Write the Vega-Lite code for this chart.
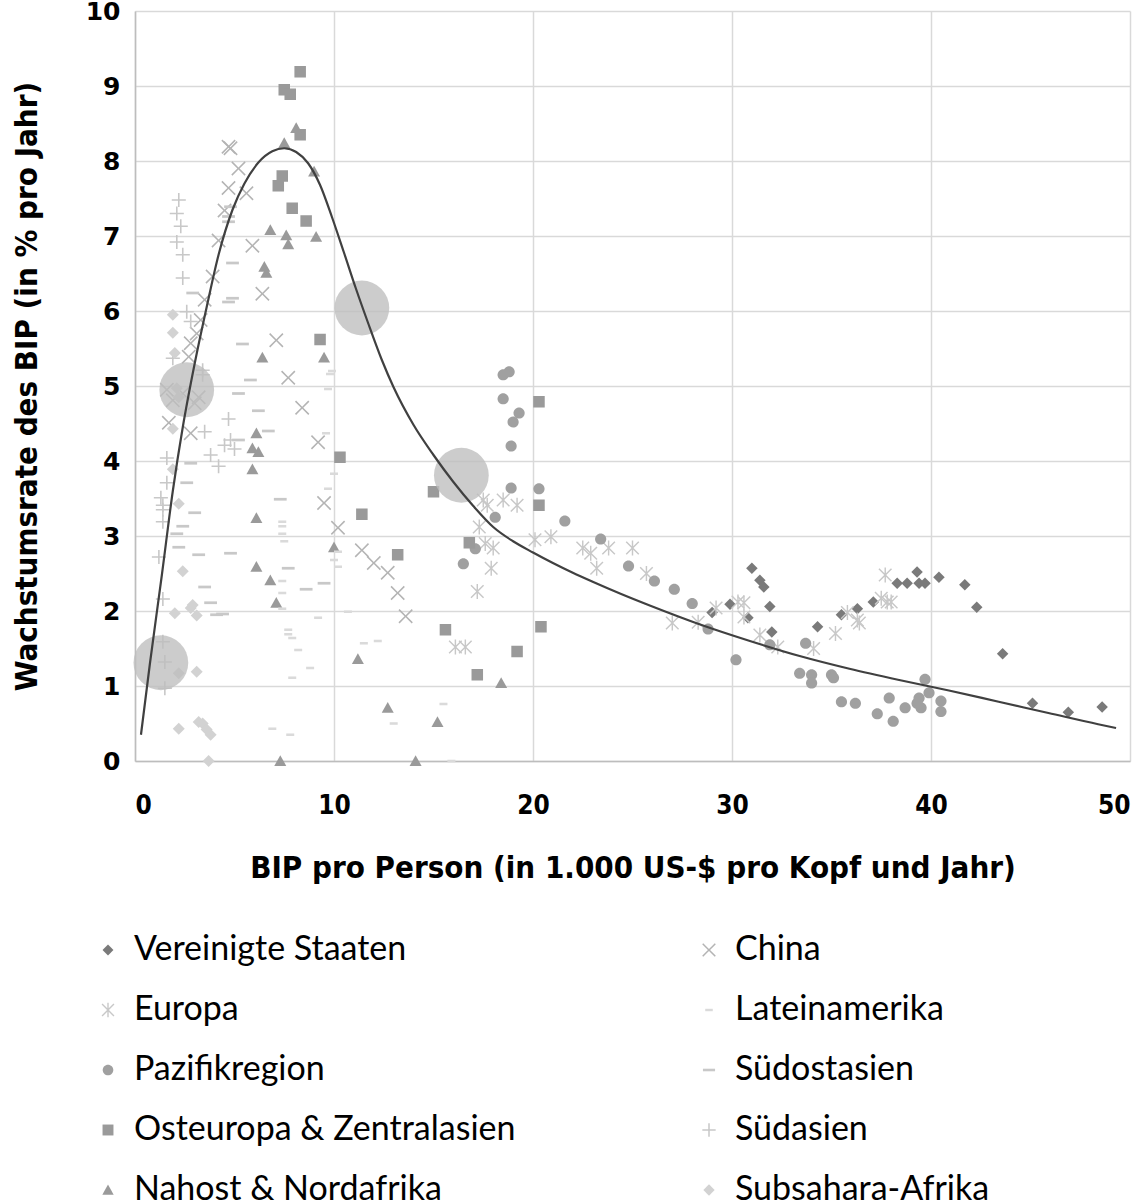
{
  "$schema": "https://vega.github.io/schema/vega-lite/v6.json",
  "width": 995,
  "height": 750,
  "autosize": {"type": "none"},
  "padding": {"left": 135, "top": 11, "right": 15, "bottom": 441},
  "background": "white",
  "config": {
    "view": {"stroke": null},
    "axis": {
      "grid": true, "gridColor": "#d9d9d9", "gridWidth": 1.5,
      "domainColor": "#bdbdbd", "domainWidth": 1.5, "ticks": false,
      "labelColor": "#000", "titleColor": "#000"
    }
  },
  "datasets": {
    "pts": [
      {"r":"Vereinigte Staaten","x":31.0,"y":2.57},{"r":"Vereinigte Staaten","x":31.4,"y":2.41},{"r":"Vereinigte Staaten","x":31.6,"y":2.32},{"r":"Vereinigte Staaten","x":31.9,"y":2.06},{"r":"Vereinigte Staaten","x":32.0,"y":1.72},{"r":"Vereinigte Staaten","x":29.9,"y":2.09},{"r":"Vereinigte Staaten","x":30.8,"y":1.91},{"r":"Vereinigte Staaten","x":29.0,"y":1.98},{"r":"Vereinigte Staaten","x":34.3,"y":1.79},{"r":"Vereinigte Staaten","x":35.5,"y":1.95},{"r":"Vereinigte Staaten","x":36.3,"y":2.03},{"r":"Vereinigte Staaten","x":37.1,"y":2.12},{"r":"Vereinigte Staaten","x":38.3,"y":2.37},{"r":"Vereinigte Staaten","x":38.8,"y":2.37},{"r":"Vereinigte Staaten","x":39.3,"y":2.52},{"r":"Vereinigte Staaten","x":39.4,"y":2.37},{"r":"Vereinigte Staaten","x":39.7,"y":2.37},{"r":"Vereinigte Staaten","x":40.4,"y":2.45},{"r":"Vereinigte Staaten","x":41.7,"y":2.35},{"r":"Vereinigte Staaten","x":42.3,"y":2.05},{"r":"Vereinigte Staaten","x":43.6,"y":1.43},{"r":"Vereinigte Staaten","x":45.1,"y":0.77},{"r":"Vereinigte Staaten","x":46.9,"y":0.65},{"r":"Vereinigte Staaten","x":48.6,"y":0.72},
      {"r":"Europa","x":17.5,"y":3.48},{"r":"Europa","x":17.7,"y":3.41},{"r":"Europa","x":18.5,"y":3.48},{"r":"Europa","x":19.2,"y":3.41},{"r":"Europa","x":17.3,"y":3.12},{"r":"Europa","x":17.6,"y":2.9},{"r":"Europa","x":18.0,"y":2.84},{"r":"Europa","x":17.9,"y":2.57},{"r":"Europa","x":17.2,"y":2.26},{"r":"Europa","x":16.1,"y":1.52},{"r":"Europa","x":16.6,"y":1.52},{"r":"Europa","x":20.1,"y":2.95},{"r":"Europa","x":20.9,"y":2.99},{"r":"Europa","x":22.5,"y":2.84},{"r":"Europa","x":22.9,"y":2.77},{"r":"Europa","x":23.2,"y":2.57},{"r":"Europa","x":23.8,"y":2.84},{"r":"Europa","x":25.0,"y":2.84},{"r":"Europa","x":25.7,"y":2.5},{"r":"Europa","x":27.0,"y":1.84},{"r":"Europa","x":28.3,"y":1.85},{"r":"Europa","x":29.2,"y":2.04},{"r":"Europa","x":30.3,"y":2.12},{"r":"Europa","x":30.6,"y":2.11},{"r":"Europa","x":30.6,"y":1.92},{"r":"Europa","x":31.4,"y":1.68},{"r":"Europa","x":32.3,"y":1.52},{"r":"Europa","x":34.1,"y":1.5},{"r":"Europa","x":35.2,"y":1.7},{"r":"Europa","x":35.8,"y":1.98},{"r":"Europa","x":36.4,"y":1.84},{"r":"Europa","x":36.3,"y":1.88},{"r":"Europa","x":37.5,"y":2.17},{"r":"Europa","x":37.7,"y":2.48},{"r":"Europa","x":38.0,"y":2.12},{"r":"Europa","x":37.8,"y":2.12},
      {"r":"Pazifikregion","x":18.5,"y":5.15},{"r":"Pazifikregion","x":18.8,"y":5.19},{"r":"Pazifikregion","x":18.5,"y":4.83},{"r":"Pazifikregion","x":19.3,"y":4.64},{"r":"Pazifikregion","x":19.0,"y":4.52},{"r":"Pazifikregion","x":18.9,"y":4.2},{"r":"Pazifikregion","x":18.9,"y":3.64},{"r":"Pazifikregion","x":20.3,"y":3.63},{"r":"Pazifikregion","x":18.1,"y":3.25},{"r":"Pazifikregion","x":21.6,"y":3.2},{"r":"Pazifikregion","x":17.1,"y":2.83},{"r":"Pazifikregion","x":16.5,"y":2.63},{"r":"Pazifikregion","x":23.4,"y":2.96},{"r":"Pazifikregion","x":24.8,"y":2.6},{"r":"Pazifikregion","x":26.1,"y":2.4},{"r":"Pazifikregion","x":27.1,"y":2.29},{"r":"Pazifikregion","x":28.0,"y":2.1},{"r":"Pazifikregion","x":28.8,"y":1.76},{"r":"Pazifikregion","x":30.2,"y":1.35},{"r":"Pazifikregion","x":31.9,"y":1.55},{"r":"Pazifikregion","x":33.4,"y":1.17},{"r":"Pazifikregion","x":33.7,"y":1.57},{"r":"Pazifikregion","x":34.0,"y":1.15},{"r":"Pazifikregion","x":34.0,"y":1.04},{"r":"Pazifikregion","x":35.0,"y":1.15},{"r":"Pazifikregion","x":35.1,"y":1.11},{"r":"Pazifikregion","x":35.5,"y":0.79},{"r":"Pazifikregion","x":36.2,"y":0.77},{"r":"Pazifikregion","x":37.3,"y":0.63},{"r":"Pazifikregion","x":37.9,"y":0.84},{"r":"Pazifikregion","x":38.1,"y":0.53},{"r":"Pazifikregion","x":38.7,"y":0.71},{"r":"Pazifikregion","x":39.3,"y":0.77},{"r":"Pazifikregion","x":39.4,"y":0.84},{"r":"Pazifikregion","x":39.5,"y":0.71},{"r":"Pazifikregion","x":39.7,"y":1.09},{"r":"Pazifikregion","x":39.9,"y":0.91},{"r":"Pazifikregion","x":40.5,"y":0.8},{"r":"Pazifikregion","x":40.5,"y":0.66},
      {"r":"Osteuropa & Zentralasien","x":8.3,"y":9.19},{"r":"Osteuropa & Zentralasien","x":7.5,"y":8.95},{"r":"Osteuropa & Zentralasien","x":7.8,"y":8.89},{"r":"Osteuropa & Zentralasien","x":8.3,"y":8.35},{"r":"Osteuropa & Zentralasien","x":7.4,"y":7.8},{"r":"Osteuropa & Zentralasien","x":7.2,"y":7.67},{"r":"Osteuropa & Zentralasien","x":7.9,"y":7.37},{"r":"Osteuropa & Zentralasien","x":8.6,"y":7.2},{"r":"Osteuropa & Zentralasien","x":9.3,"y":5.62},{"r":"Osteuropa & Zentralasien","x":10.3,"y":4.05},{"r":"Osteuropa & Zentralasien","x":11.4,"y":3.29},{"r":"Osteuropa & Zentralasien","x":20.3,"y":4.79},{"r":"Osteuropa & Zentralasien","x":15.0,"y":3.59},{"r":"Osteuropa & Zentralasien","x":20.3,"y":3.41},{"r":"Osteuropa & Zentralasien","x":13.2,"y":2.75},{"r":"Osteuropa & Zentralasien","x":16.8,"y":2.91},{"r":"Osteuropa & Zentralasien","x":15.6,"y":1.75},{"r":"Osteuropa & Zentralasien","x":20.4,"y":1.79},{"r":"Osteuropa & Zentralasien","x":19.2,"y":1.46},{"r":"Osteuropa & Zentralasien","x":17.2,"y":1.15},
      {"r":"Nahost & Nordafrika","x":8.1,"y":8.44},{"r":"Nahost & Nordafrika","x":7.5,"y":8.24},{"r":"Nahost & Nordafrika","x":9.0,"y":7.86},{"r":"Nahost & Nordafrika","x":6.8,"y":7.08},{"r":"Nahost & Nordafrika","x":7.6,"y":7.01},{"r":"Nahost & Nordafrika","x":7.7,"y":6.89},{"r":"Nahost & Nordafrika","x":9.1,"y":6.99},{"r":"Nahost & Nordafrika","x":6.5,"y":6.59},{"r":"Nahost & Nordafrika","x":6.6,"y":6.51},{"r":"Nahost & Nordafrika","x":6.4,"y":5.38},{"r":"Nahost & Nordafrika","x":9.5,"y":5.38},{"r":"Nahost & Nordafrika","x":6.1,"y":4.37},{"r":"Nahost & Nordafrika","x":5.9,"y":4.17},{"r":"Nahost & Nordafrika","x":6.2,"y":4.12},{"r":"Nahost & Nordafrika","x":5.9,"y":3.89},{"r":"Nahost & Nordafrika","x":6.1,"y":3.24},{"r":"Nahost & Nordafrika","x":6.1,"y":2.59},{"r":"Nahost & Nordafrika","x":6.8,"y":2.41},{"r":"Nahost & Nordafrika","x":7.1,"y":2.11},{"r":"Nahost & Nordafrika","x":10.0,"y":2.85},{"r":"Nahost & Nordafrika","x":11.2,"y":1.36},{"r":"Nahost & Nordafrika","x":7.3,"y":0.0},{"r":"Nahost & Nordafrika","x":18.4,"y":1.04},{"r":"Nahost & Nordafrika","x":12.7,"y":0.71},{"r":"Nahost & Nordafrika","x":15.2,"y":0.52},{"r":"Nahost & Nordafrika","x":14.1,"y":0.0},
      {"r":"China","x":4.7,"y":8.19},{"r":"China","x":4.8,"y":8.17},{"r":"China","x":5.2,"y":7.9},{"r":"China","x":4.7,"y":7.64},{"r":"China","x":5.6,"y":7.57},{"r":"China","x":4.5,"y":7.34},{"r":"China","x":4.2,"y":6.94},{"r":"China","x":5.9,"y":6.87},{"r":"China","x":3.9,"y":6.46},{"r":"China","x":6.4,"y":6.23},{"r":"China","x":3.5,"y":6.15},{"r":"China","x":3.3,"y":5.88},{"r":"China","x":3.1,"y":5.7},{"r":"China","x":7.1,"y":5.61},{"r":"China","x":2.8,"y":5.57},{"r":"China","x":2.7,"y":5.39},{"r":"China","x":1.6,"y":4.95},{"r":"China","x":1.9,"y":4.81},{"r":"China","x":3.0,"y":4.77},{"r":"China","x":1.7,"y":4.51},{"r":"China","x":2.8,"y":4.37},{"r":"China","x":2.4,"y":4.9},{"r":"China","x":3.2,"y":4.85},{"r":"China","x":7.7,"y":5.11},{"r":"China","x":8.4,"y":4.71},{"r":"China","x":9.2,"y":4.25},{"r":"China","x":9.5,"y":3.44},{"r":"China","x":10.2,"y":3.11},{"r":"China","x":11.4,"y":2.81},{"r":"China","x":12.0,"y":2.64},{"r":"China","x":12.7,"y":2.51},{"r":"China","x":13.2,"y":2.24},{"r":"China","x":13.6,"y":1.93},
      {"r":"Lateinamerika","x":9.8,"y":5.16},{"r":"Lateinamerika","x":9.9,"y":5.2},{"r":"Lateinamerika","x":9.7,"y":4.96},{"r":"Lateinamerika","x":9.6,"y":4.37},{"r":"Lateinamerika","x":10.0,"y":3.83},{"r":"Lateinamerika","x":9.7,"y":3.63},{"r":"Lateinamerika","x":7.4,"y":3.19},{"r":"Lateinamerika","x":7.4,"y":3.13},{"r":"Lateinamerika","x":7.4,"y":3.03},{"r":"Lateinamerika","x":7.5,"y":2.93},{"r":"Lateinamerika","x":10.2,"y":2.79},{"r":"Lateinamerika","x":10.0,"y":2.68},{"r":"Lateinamerika","x":10.2,"y":2.59},{"r":"Lateinamerika","x":7.4,"y":2.4},{"r":"Lateinamerika","x":7.4,"y":2.24},{"r":"Lateinamerika","x":7.4,"y":2.03},{"r":"Lateinamerika","x":9.2,"y":1.91},{"r":"Lateinamerika","x":10.7,"y":1.99},{"r":"Lateinamerika","x":7.7,"y":1.75},{"r":"Lateinamerika","x":7.7,"y":1.69},{"r":"Lateinamerika","x":7.9,"y":1.64},{"r":"Lateinamerika","x":8.2,"y":1.48},{"r":"Lateinamerika","x":8.8,"y":1.24},{"r":"Lateinamerika","x":7.9,"y":1.11},{"r":"Lateinamerika","x":6.9,"y":0.43},{"r":"Lateinamerika","x":7.8,"y":0.35},{"r":"Lateinamerika","x":11.5,"y":1.57},{"r":"Lateinamerika","x":12.2,"y":1.6},{"r":"Lateinamerika","x":15.5,"y":0.76},{"r":"Lateinamerika","x":13.0,"y":0.5},{"r":"Lateinamerika","x":15.9,"y":0.0},
      {"r":"Südostasien","x":4.8,"y":7.39},{"r":"Südostasien","x":4.7,"y":7.26},{"r":"Südostasien","x":4.7,"y":7.19},{"r":"Südostasien","x":4.9,"y":6.64},{"r":"Südostasien","x":2.9,"y":6.24},{"r":"Südostasien","x":4.9,"y":6.17},{"r":"Südostasien","x":4.7,"y":6.12},{"r":"Südostasien","x":5.4,"y":5.56},{"r":"Südostasien","x":5.8,"y":5.08},{"r":"Südostasien","x":5.2,"y":4.9},{"r":"Südostasien","x":6.2,"y":4.67},{"r":"Südostasien","x":6.7,"y":4.4},{"r":"Südostasien","x":5.2,"y":4.28},{"r":"Südostasien","x":2.8,"y":3.97},{"r":"Südostasien","x":2.6,"y":3.71},{"r":"Südostasien","x":7.3,"y":3.49},{"r":"Südostasien","x":3.0,"y":3.31},{"r":"Südostasien","x":2.4,"y":3.13},{"r":"Südostasien","x":2.1,"y":3.03},{"r":"Südostasien","x":2.2,"y":2.85},{"r":"Südostasien","x":3.2,"y":2.75},{"r":"Südostasien","x":4.8,"y":2.77},{"r":"Südostasien","x":7.7,"y":2.57},{"r":"Südostasien","x":8.6,"y":2.29},{"r":"Südostasien","x":9.5,"y":2.37},{"r":"Südostasien","x":3.5,"y":2.32},{"r":"Südostasien","x":3.8,"y":2.11},{"r":"Südostasien","x":4.1,"y":1.95},{"r":"Südostasien","x":4.4,"y":1.96},
      {"r":"Südasien","x":2.2,"y":7.48},{"r":"Südasien","x":2.1,"y":7.3},{"r":"Südasien","x":2.3,"y":7.13},{"r":"Südasien","x":2.1,"y":6.92},{"r":"Südasien","x":2.4,"y":6.75},{"r":"Südasien","x":2.4,"y":6.44},{"r":"Südasien","x":2.6,"y":5.99},{"r":"Südasien","x":2.8,"y":5.86},{"r":"Südasien","x":1.9,"y":5.37},{"r":"Südasien","x":3.4,"y":5.21},{"r":"Südasien","x":3.4,"y":5.15},{"r":"Südasien","x":4.7,"y":4.56},{"r":"Südasien","x":3.5,"y":4.39},{"r":"Südasien","x":4.5,"y":4.21},{"r":"Südasien","x":4.8,"y":4.28},{"r":"Südasien","x":5.0,"y":4.16},{"r":"Südasien","x":3.8,"y":4.08},{"r":"Südasien","x":4.2,"y":3.93},{"r":"Südasien","x":1.6,"y":4.04},{"r":"Südasien","x":1.6,"y":3.71},{"r":"Südasien","x":1.3,"y":3.51},{"r":"Südasien","x":1.4,"y":3.41},{"r":"Südasien","x":1.4,"y":3.35},{"r":"Südasien","x":1.4,"y":3.19},{"r":"Südasien","x":1.2,"y":2.72},{"r":"Südasien","x":1.4,"y":2.16},{"r":"Südasien","x":1.4,"y":1.59},{"r":"Südasien","x":1.5,"y":1.32},{"r":"Südasien","x":1.5,"y":0.97},
      {"r":"Subsahara-Afrika","x":1.9,"y":5.95},{"r":"Subsahara-Afrika","x":1.9,"y":5.71},{"r":"Subsahara-Afrika","x":2.0,"y":5.44},{"r":"Subsahara-Afrika","x":2.1,"y":4.97},{"r":"Subsahara-Afrika","x":2.2,"y":4.85},{"r":"Subsahara-Afrika","x":1.9,"y":4.43},{"r":"Subsahara-Afrika","x":1.9,"y":3.89},{"r":"Subsahara-Afrika","x":2.2,"y":3.43},{"r":"Subsahara-Afrika","x":2.4,"y":2.53},{"r":"Subsahara-Afrika","x":2.9,"y":2.08},{"r":"Subsahara-Afrika","x":2.8,"y":2.04},{"r":"Subsahara-Afrika","x":2.0,"y":1.97},{"r":"Subsahara-Afrika","x":3.1,"y":1.94},{"r":"Subsahara-Afrika","x":2.2,"y":1.17},{"r":"Subsahara-Afrika","x":3.1,"y":1.19},{"r":"Subsahara-Afrika","x":2.2,"y":0.43},{"r":"Subsahara-Afrika","x":3.2,"y":0.52},{"r":"Subsahara-Afrika","x":3.4,"y":0.5},{"r":"Subsahara-Afrika","x":3.6,"y":0.42},{"r":"Subsahara-Afrika","x":3.8,"y":0.35},{"r":"Subsahara-Afrika","x":3.7,"y":0.0}
    ],
    "curve": [
      {"x":0.3,"y":0.35},{"x":0.75,"y":1.3},{"x":1.36,"y":2.5},{"x":1.9,"y":3.6},{"x":2.4,"y":4.45},{"x":3.0,"y":5.3},{"x":3.6,"y":6.05},{"x":4.2,"y":6.75},{"x":4.9,"y":7.35},{"x":5.5,"y":7.7},{"x":6.2,"y":7.98},{"x":6.9,"y":8.13},{"x":7.5,"y":8.17},{"x":8.1,"y":8.12},{"x":8.7,"y":7.97},{"x":9.3,"y":7.68},{"x":9.9,"y":7.25},{"x":10.5,"y":6.78},{"x":11.1,"y":6.3},{"x":11.7,"y":5.85},{"x":12.4,"y":5.35},{"x":13.0,"y":4.98},{"x":14.0,"y":4.48},{"x":15.0,"y":4.08},{"x":16.0,"y":3.72},{"x":17.0,"y":3.4},{"x":18.0,"y":3.12},{"x":19.0,"y":2.93},{"x":20.0,"y":2.78},{"x":21.0,"y":2.64},{"x":22.0,"y":2.51},{"x":23.0,"y":2.39},{"x":24.4,"y":2.23},{"x":25.9,"y":2.07},{"x":28.4,"y":1.82},{"x":30.9,"y":1.6},{"x":33.4,"y":1.4},{"x":35.9,"y":1.23},{"x":38.4,"y":1.08},{"x":40.9,"y":0.94},{"x":43.4,"y":0.79},{"x":45.9,"y":0.64},{"x":48.4,"y":0.49},{"x":49.3,"y":0.44}
    ],
    "circles": [
      {"x":1.3,"y":1.31},{"x":2.6,"y":4.95},{"x":11.4,"y":6.04},{"x":16.4,"y":3.81}
    ]
  },
  "layer": [
    {
      "data": {"name": "pts"},
      "mark": {"type": "point", "filled": true, "opacity": 1, "size": 256, "strokeWidth": 0},
      "encoding": {
        "x": {"field": "x", "type": "quantitative", "scale": {"domain": [0, 50], "nice": false},
          "axis": {"values": [0,10,20,30,40,50], "format": "d", "labelFont": "DejaVu Sans Condensed, sans-serif", "labelFontWeight": "bold", "labelFontSize": 26, "labelPadding": 31,
            "title": "BIP pro Person (in 1.000 US-$ pro Kopf und Jahr)", "titleFont": "DejaVu Sans Condensed, sans-serif", "titleFontWeight": "bold", "titleFontSize": 31, "titlePadding": 35}},
        "y": {"field": "y", "type": "quantitative", "scale": {"domain": [0, 10], "nice": false},
          "axis": {"values": [0,1,2,3,4,5,6,7,8,9,10], "format": "d", "labelFont": "DejaVu Sans", "labelFontWeight": "bold", "labelFontSize": 25, "labelPadding": 15,
            "title": "Wachstumsrate des BIP (in % pro Jahr)", "titleFont": "DejaVu Sans Condensed, sans-serif", "titleFontWeight": "bold", "titleFontSize": 31, "titlePadding": 42}},
        "color": {"field": "r", "type": "nominal",
          "scale": {
            "domain": ["Vereinigte Staaten","Europa","Pazifikregion","Osteuropa & Zentralasien","Nahost & Nordafrika","China","Lateinamerika","Südostasien","Südasien","Subsahara-Afrika"],
            "range": ["#7a7a7a","#c8c8c8","#a0a0a0","#9a9a9a","#9a9a9a","#b4b4b4","#dadada","#c8c8c8","#c8c8c8","#d2d2d2"]},
          "legend": {"orient": "none", "legendX": -44, "legendY": 922, "columns": 2, "columnPadding": 176, "rowPadding": 26, "title": null,
            "labelFont": "Lato", "labelFontSize": 34, "labelColor": "#000", "labelOffset": 9, "symbolSize": 230, "symbolStrokeWidth": 0, "labelLimit": 600}},
        "shape": {"field": "r", "type": "nominal",
          "scale": {
            "domain": ["Vereinigte Staaten","Europa","Pazifikregion","Osteuropa & Zentralasien","Nahost & Nordafrika","China","Lateinamerika","Südostasien","Südasien","Subsahara-Afrika"],
            "range": [
              "M0,-0.72L0.72,0L0,0.72L-0.72,0Z",
              "M0,-0.13L0.72,-0.85L0.85,-0.72L0.13,0L0.85,0.72L0.72,0.85L0,0.13L-0.72,0.85L-0.85,0.72L-0.13,0L-0.85,-0.72L-0.72,-0.85ZM-0.09,-0.95L0.09,-0.95L0.09,0.95L-0.09,0.95Z",
              "M-0.7,0A0.7,0.7 0 1,0 0.7,0A0.7,0.7 0 1,0 -0.7,0Z",
              "M-0.72,-0.72L0.72,-0.72L0.72,0.72L-0.72,0.72Z",
              "M0,-0.72L0.75,0.62L-0.75,0.62Z",
              "M0,-0.14L0.76,-0.9L0.9,-0.76L0.14,0L0.9,0.76L0.76,0.9L0,0.14L-0.76,0.9L-0.9,0.76L-0.14,0L-0.9,-0.76L-0.76,-0.9Z",
              "M-0.5,-0.16L0.5,-0.16L0.5,0.16L-0.5,0.16Z",
              "M-0.8,-0.17L0.8,-0.17L0.8,0.17L-0.8,0.17Z",
              "M-0.1,-0.88L0.1,-0.88L0.1,-0.1L0.88,-0.1L0.88,0.1L0.1,0.1L0.1,0.88L-0.1,0.88L-0.1,0.1L-0.88,0.1L-0.88,-0.1L-0.1,-0.1Z",
              "M0,-0.75L0.75,0L0,0.75L-0.75,0Z"
            ]},
          "legend": null}
      }
    },
    {
      "data": {"name": "circles"},
      "mark": {"type": "circle", "size": 3000, "color": "#bebebe", "opacity": 0.78},
      "encoding": {
        "x": {"field": "x", "type": "quantitative"},
        "y": {"field": "y", "type": "quantitative"}
      }
    },
    {
      "data": {"name": "curve"},
      "mark": {"type": "line", "interpolate": "monotone", "color": "#404040", "strokeWidth": 2.2},
      "encoding": {
        "x": {"field": "x", "type": "quantitative"},
        "y": {"field": "y", "type": "quantitative"}
      }
    }
  ]
}
